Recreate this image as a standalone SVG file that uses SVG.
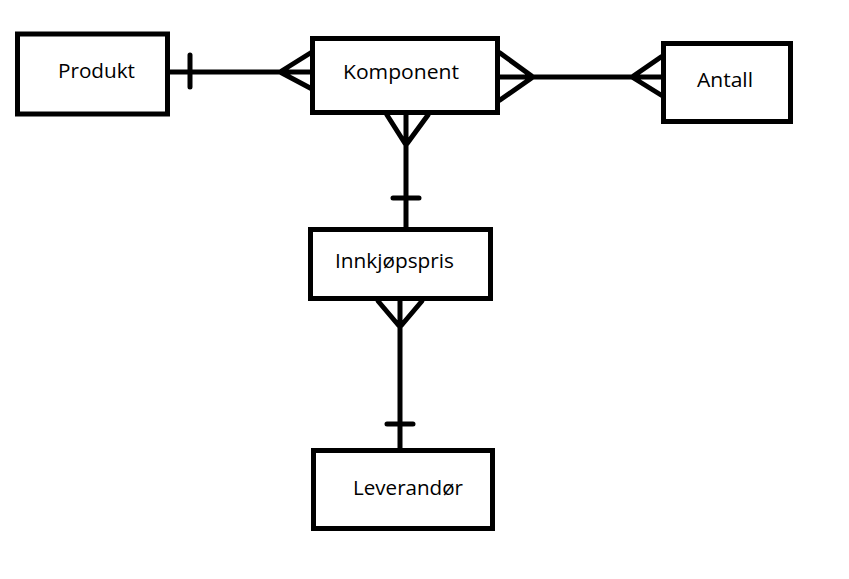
<svg xmlns="http://www.w3.org/2000/svg" width="849" height="579" viewBox="0 0 849 579">
<style>
.box{fill:#fff;stroke:#000;stroke-width:5}
.ln{fill:none;stroke:#000;stroke-width:5;stroke-linecap:round;stroke-linejoin:round}
.t{font-family:"Open Sans","Noto Sans",sans-serif;font-size:20px;fill:#000}
</style>
<rect width="849" height="579" fill="#fff"/>
<g id="connectors">
<path class="ln" d="M170 72 H312 M190 55 V87 M280 72 L312 52 M280 72 L312 89"/>
<path class="ln" d="M500 77 H661 M500 53 L533 77 L500 100 M632 77 L661 57 M632 77 L661 95"/>
<path class="ln" d="M406 115 V227 M387 115 L406 145 L428 115 M393 198 H419"/>
<path class="ln" d="M400 301 V448 M378 301 L400 327 L422 301 M387 424 H413"/>
</g>
<g id="produkt"><rect class="box" x="17.5" y="34" width="150" height="80"/><text class="t" x="58" y="78" textLength="77" lengthAdjust="spacingAndGlyphs">Produkt</text></g>
<g id="komponent"><rect class="box" x="312.5" y="38.5" width="185" height="74"/><text class="t" x="343" y="79" textLength="116" lengthAdjust="spacingAndGlyphs">Komponent</text></g>
<g id="antall"><rect class="box" x="663.5" y="43.5" width="127" height="78"/><text class="t" x="697" y="87" textLength="56" lengthAdjust="spacingAndGlyphs">Antall</text></g>
<g id="innkjopspris"><rect class="box" x="310.5" y="229.5" width="180" height="69"/><text class="t" x="335" y="268" textLength="119" lengthAdjust="spacingAndGlyphs">Innkjøpspris</text></g>
<g id="leverandor"><rect class="box" x="313.5" y="450.5" width="179" height="78"/><text class="t" x="353" y="495" textLength="110" lengthAdjust="spacingAndGlyphs">Leverandør</text></g>
</svg>
